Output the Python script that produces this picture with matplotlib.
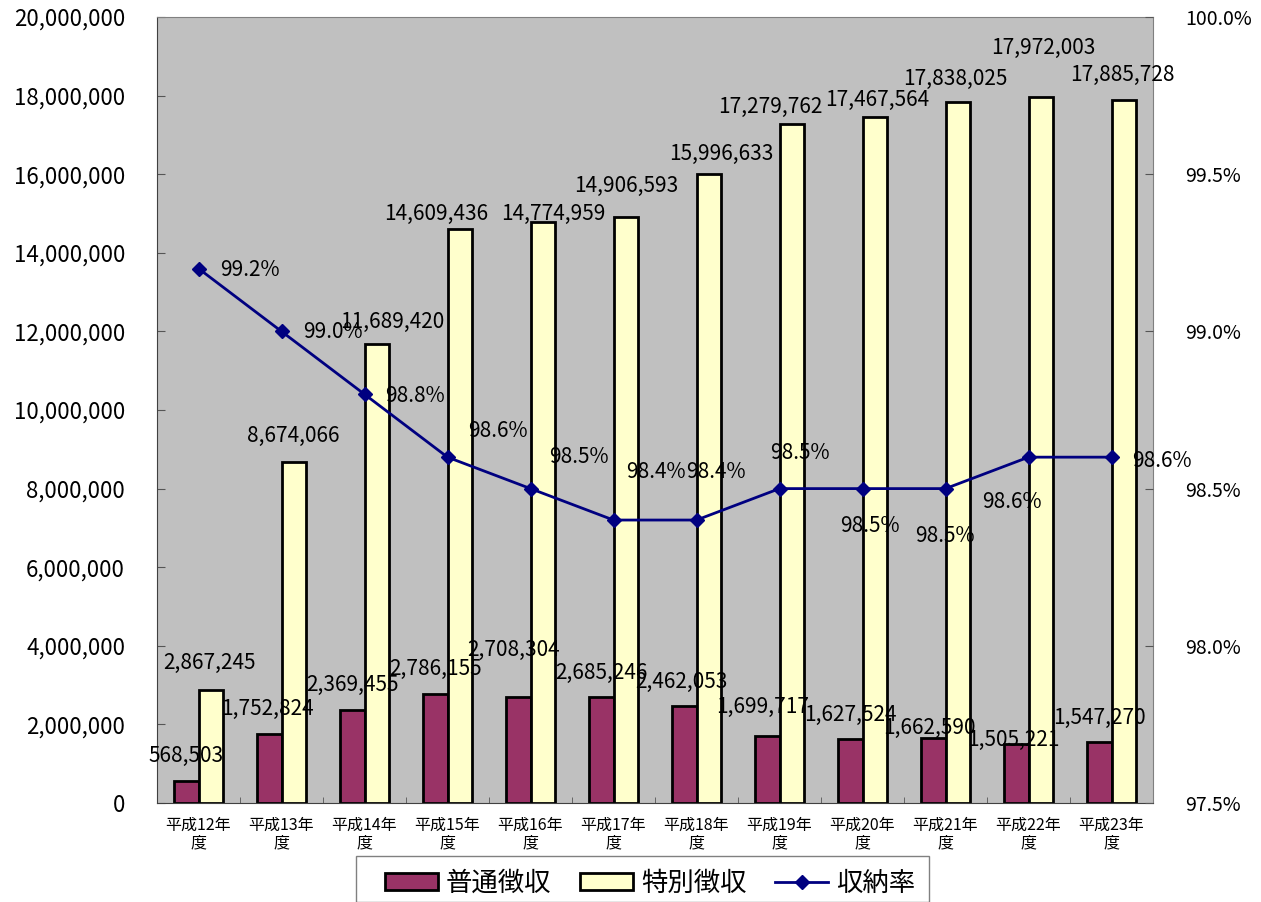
import numpy as np
import matplotlib
matplotlib.use("Agg")
import matplotlib.pyplot as plt
from matplotlib.ticker import FuncFormatter
from matplotlib.patches import Rectangle

plt.rcParams['font.family'] = ['Noto Sans CJK JP', 'DejaVu Sans']

years = ["平成12年\n度", "平成13年\n度", "平成14年\n度", "平成15年\n度", "平成16年\n度", "平成17年\n度",
         "平成18年\n度", "平成19年\n度", "平成20年\n度", "平成21年\n度", "平成22年\n度", "平成23年\n度"]
futsu = [568503, 1752824, 2369455, 2786155, 2708304, 2685246,
         2462053, 1699717, 1627524, 1662590, 1505221, 1547270]
tokubetsu = [2867245, 8674066, 11689420, 14609436, 14774959, 14906593,
             15996633, 17279762, 17467564, 17838025, 17972003, 17885728]
rate = [99.2, 99.0, 98.8, 98.6, 98.5, 98.4, 98.4, 98.5, 98.5, 98.5, 98.6, 98.6]

# label offsets in pixels (dx, dy up positive), scattered as in the original
off_futsu = [(0, 25), (-2, 25), (0, 25), (0, 25), (-5, 47), (0, 25),
             (-3, 24), (-5, 29), (0, 24), (-4, 10), (-3, 4), (0, 24)]
off_toku = [(-1, 27), (0, 26), (16, 22), (-23, 15), (11, 8), (1, 31),
            (13, 20), (-21, 17), (3, 17), (-2, 23), (3, 49), (-1, 25)]
off_rate = [(51, -1), (51, -1), (51, -2), (50, 26), (48, 32), (42, 48),
            (19, 48), (20, 36), (7, -37), (-1, -47), (-17, -45), (50, -4)]

W, H = 1261, 902
fig = plt.figure(figsize=(W / 100, H / 100), dpi=100)
ax = fig.add_axes([157 / W, (H - 803) / H, 996 / W, 786 / H])
ax.set_facecolor('#C0C0C0')

x = np.arange(len(years))
bw = 0.29
b1 = ax.bar(x - bw / 2, futsu, bw, color='#993366', edgecolor='black', linewidth=2, zorder=2)
b2 = ax.bar(x + bw / 2, tokubetsu, bw, color='#FFFFCC', edgecolor='black', linewidth=2, zorder=2)

ax.set_xlim(-0.5, len(years) - 0.5)
ax.set_ylim(0, 20000000)
ax.set_yticks(np.arange(0, 20000001, 2000000))
ax.yaxis.set_major_formatter(FuncFormatter(lambda v, p: f"{int(v):,}"))
ax.tick_params(axis='y', direction='in', length=6, labelsize=16, pad=23, color='#555555')
ax.set_xticks(x)
ax.set_xticklabels(years, fontsize=11.5, linespacing=1.05)
ax.set_xticks(np.arange(-0.5, len(years), 1), minor=True)
ax.tick_params(axis='x', which='major', length=0, pad=10)
ax.tick_params(axis='x', which='minor', direction='in', length=4, color='#555555')
for s in ax.spines.values():
    s.set_color('#808080')
ax.spines['left'].set_color('#404040')
ax.spines['bottom'].set_color('#404040')

ax2 = ax.twinx()
ln, = ax2.plot(x, rate, color='#000080', marker='D', markersize=7, linewidth=2, zorder=3)
ax2.set_ylim(97.5, 100.0)
ax2.set_yticks(np.arange(97.5, 100.01, 0.5))
ax2.yaxis.set_major_formatter(FuncFormatter(lambda v, p: f"{v:.1f}%"))
ax2.tick_params(axis='y', direction='in', length=6, labelsize=14, pad=23, color='#555555')
for s in ax2.spines.values():
    s.set_visible(False)

fs = 15
k = 0.72  # pixels -> points
for i in range(len(years)):
    ax.annotate(f"{futsu[i]:,}", (x[i] - bw / 2, futsu[i]), xytext=(off_futsu[i][0] * k, off_futsu[i][1] * k),
                textcoords='offset points', ha='center', va='center', fontsize=fs, zorder=4)
    ax.annotate(f"{tokubetsu[i]:,}", (x[i] + bw / 2, tokubetsu[i]), xytext=(off_toku[i][0] * k, off_toku[i][1] * k),
                textcoords='offset points', ha='center', va='center', fontsize=fs, zorder=4)
    ax2.annotate(f"{rate[i]:.1f}%", (x[i], rate[i]), xytext=(off_rate[i][0] * k, off_rate[i][1] * k),
                 textcoords='offset points', ha='center', va='center', fontsize=fs, zorder=4)

# legend box, drawn separately so it is wide but short like the original
fig.patches.append(Rectangle((356 / W, 0), (929 - 356) / W, (H - 856) / H, transform=fig.transFigure,
                             facecolor='white', edgecolor='#808080', linewidth=1, zorder=1))
leg = fig.legend([b1, b2, ln], ['普通徴収', '特別徴収', '収納率'], loc='center left',
                 bbox_to_anchor=(385 / W, 1 - 883 / H), ncol=3, fontsize=19, frameon=False,
                 handlelength=2.0, handleheight=0.6, columnspacing=1.1, handletextpad=0.3,
                 borderpad=0, borderaxespad=0)

fig.savefig('out.png', dpi=100, facecolor='white')
